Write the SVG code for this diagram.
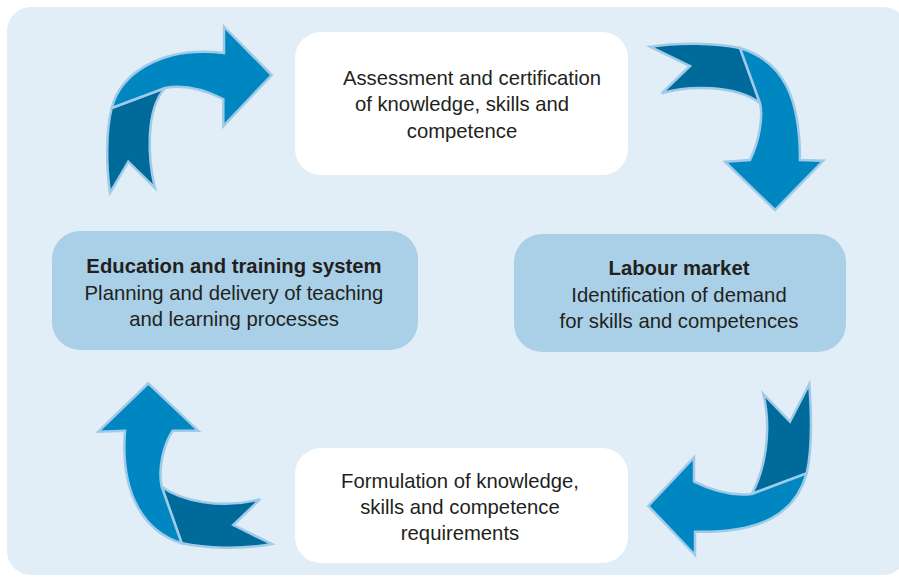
<svg xmlns="http://www.w3.org/2000/svg" width="899" height="577" viewBox="0 0 899 577">
<style>
.t{font-family:"Liberation Sans",Arial,sans-serif;font-size:20.3px;fill:#231f20;text-anchor:middle}
.b{font-weight:bold}
.lt{fill:#0087c1;stroke:#9fcbe9;stroke-width:2.5;stroke-linejoin:miter}
.dk{fill:#006b9b;stroke:#9fcbe9;stroke-width:2.5;stroke-linejoin:miter}
.wn{fill:#ffffff}
.bn{fill:#a9d0e7}
</style>
<rect x="7" y="7" width="900" height="568" rx="24" fill="#e2eef7"/>
<g id="connectors">
  <g id="arrow-top-left">
    <path class="dk" d="M111.7,108 C106,130 106,165 110,193 L128.3,161.7 L155,188 C148,160 145,110 165,88 Z"/>
    <path class="lt" d="M111.7,108 C120,75 160,45 224,53 L224,26.7 L271.7,75 L223.3,126 L223.3,99 C205,90 185,84 165,88 Z"/>
  </g>
  <g id="arrow-top-right">
    <path class="dk" d="M650,46.7 L690,66 L661.7,93.3 C690,85 735,85 760,103 L740,48 C715,43 680,42 650,46.7 Z"/>
    <path class="lt" d="M740,48 C785,62 800,100 800,160 L823.3,160.7 L775,210 L725,161.7 L750,160 C760,140 763,115 760,103 Z"/>
  </g>
  <g id="arrow-bottom-right">
    <path class="dk" d="M763.3,394 L790,421.7 L809.3,384 C812,420 812,450 806.7,473.3 L751.7,494 C765,470 772,430 763.3,394 Z"/>
    <path class="lt" d="M806.7,473.3 C795,515 760,533 695,531.7 L695,555 L648.3,506 L694,457.3 L694,481.7 C715,492 735,496 751.7,494 Z"/>
  </g>
  <g id="arrow-bottom-left">
    <path class="dk" d="M161.7,486.7 C180,500 220,510 260,499.3 L233.3,525 L271.7,544 C240,550 205,548 181.7,543.3 Z"/>
    <path class="lt" d="M148.3,383.3 L198.3,430.7 L172.7,430.7 C163,445 158,470 161.7,486.7 L181.7,543.3 C145,532 120,495 125,430.7 L98.3,431.7 Z"/>
  </g>
</g>
<g id="node-assessment">
  <rect class="wn" x="295" y="32" width="333" height="143" rx="26"/>
  <text class="t" x="472" y="85">Assessment and certification</text>
  <text class="t" x="462" y="111">of knowledge, skills and</text>
  <text class="t" x="462" y="138">competence</text>
</g>
<g id="node-education">
  <rect class="bn" x="52" y="231" width="366" height="119" rx="28"/>
  <text class="t b" x="234" y="273">Education and training system</text>
  <text class="t" x="234" y="300">Planning and delivery of teaching</text>
  <text class="t" x="234" y="326">and learning processes</text>
</g>
<g id="node-labour">
  <rect class="bn" x="514" y="234" width="332" height="118" rx="28"/>
  <text class="t b" x="679" y="275">Labour market</text>
  <text class="t" x="679" y="302">Identification of demand</text>
  <text class="t" x="679" y="328">for skills and competences</text>
</g>
<g id="node-formulation">
  <rect class="wn" x="295" y="448" width="333" height="115" rx="26"/>
  <text class="t" x="460" y="488">Formulation of knowledge,</text>
  <text class="t" x="460" y="514">skills and competence</text>
  <text class="t" x="460" y="540">requirements</text>
</g>
</svg>
